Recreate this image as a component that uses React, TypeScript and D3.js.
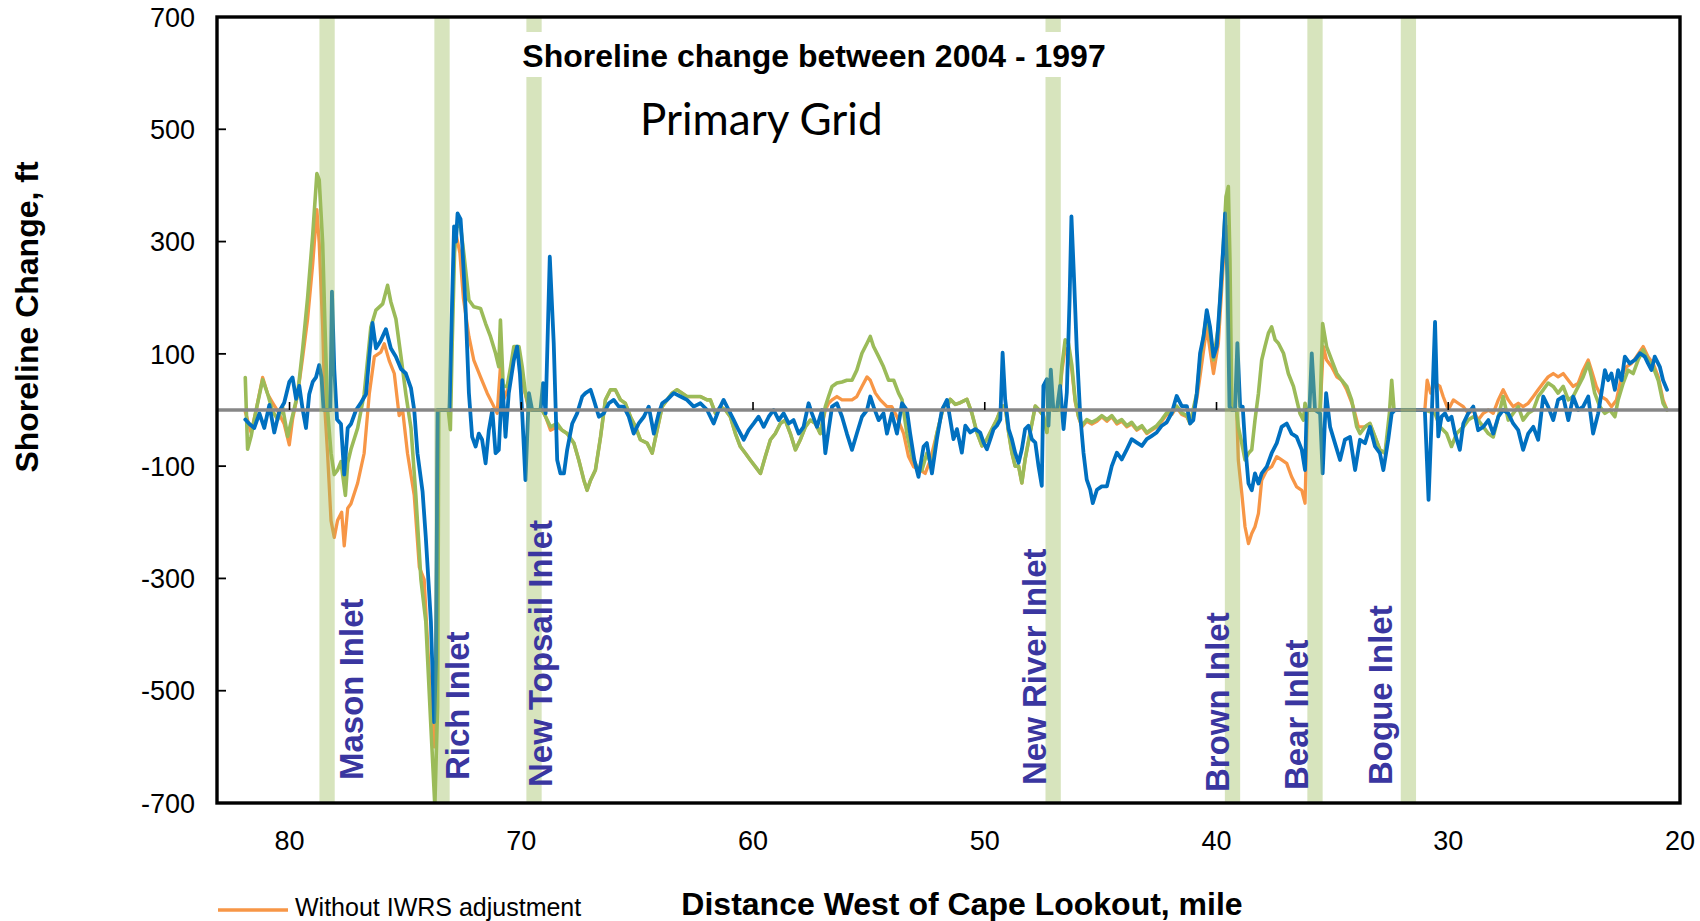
import React from 'react';
import * as d3 from 'd3';

type Pt = [number, number];

// ---------- data (mile west of Cape Lookout, shoreline change ft) ----------
const xTickValues = [80, 70, 60, 50, 40, 30, 20];
const yTickValues = [700, 500, 300, 100, -100, -300, -500, -700];

const inletNames = ['Mason Inlet', 'Rich Inlet', 'New Topsail Inlet', 'New River Inlet', 'Brown Inlet', 'Bear Inlet', 'Bogue Inlet'];
const inletMiles = [78.38, 73.42, 69.45, 47.05, 39.31, 35.75, 31.72];

const orangeSeries: Pt[] = [
  [81.91,-3],[81.66,-40],[81.45,-2],[81.16,58],[80.94,28],[80.73,13],[80.51,-2],[80.23,-25],[80.01,-62],[79.87,-17],[79.65,28],[79.43,95],[79.22,162],[79.00,260],[78.82,357],[78.72,297],[78.57,148],[78.47,-2],[78.36,-77],[78.21,-197],[78.07,-227],[77.93,-197],[77.75,-182],[77.64,-242],[77.49,-175],[77.35,-167],[77.06,-130],[76.78,-77],[76.56,28],[76.34,95],[76.06,103],[75.91,118],[75.70,88],[75.48,65],[75.27,-10],[75.12,0],[74.91,-77],[74.62,-152],[74.40,-280],[74.19,-302],[73.90,-527],[73.76,-600],[73.68,-450],[73.61,0],[73.10,0],[72.98,180],[72.90,300],[72.80,310],[72.65,280],[72.50,200],[72.26,131],[72.05,89],[71.76,59],[71.47,30],[71.18,6],[71.04,-6],[70.90,77],[70.75,20],[70.54,42],[70.32,100],[70.10,100],[69.89,40],[69.67,0],[69.53,0],[69.10,0],[68.95,-12],[68.74,-36],[68.45,-30],
  [68.24,-36],[68.02,-42],[67.73,-59],[67.52,-89],[67.30,-125],[67.16,-143],[67.01,-125],[66.80,-107],[66.58,-48],[66.37,18],[66.15,36],[65.94,36],[65.72,18],[65.51,12],[65.29,-12],[65.07,-30],[64.86,-53],[64.57,-59],[64.35,-77],[64.14,-36],[63.92,6],[63.71,18],[63.49,30],[63.28,36],[63.06,30],[62.85,24],[62.56,24],[62.27,24],[61.98,18],[61.84,18],[61.62,-6],[61.41,6],[61.19,0],[60.98,-12],[60.76,-42],[60.55,-65],[60.33,-77],[60.12,-89],[59.90,-101],[59.68,-113],[59.47,-83],[59.25,-53],[59.04,-42],[58.82,-24],[58.61,-18],[58.39,-42],[58.17,-71],[57.96,-53],[57.74,-30],[57.53,-18],[57.31,-24],[57.10,-42],
  [56.88,0],[56.74,12],[56.59,18],[56.38,24],[56.16,18],[55.95,18],[55.73,18],[55.52,24],[55.30,42],[55.08,59],[54.94,53],[54.72,30],[54.51,18],[54.22,6],[54.01,6],[53.79,-12],[53.50,-42],[53.29,-83],[53.07,-101],[52.78,-107],[52.57,-113],[52.35,-89],[52.07,-42],[51.78,6],[51.56,12],[51.49,19],[51.27,10],[51.06,13],[50.77,19],[50.56,-5],[50.34,-40],[50.12,-64],[49.91,-52],[49.69,-34],[49.48,-17],[49.26,7],[49.12,7],[48.97,-40],[48.83,-76],[48.69,-100],[48.54,-100],[48.40,-130],[48.26,-88],[48.04,-40],[47.82,7],[47.68,1],[47.47,-10],[47.32,-40],[47.18,19],[47.04,0],[46.82,0],
  [46.67,70],[46.53,110],[46.39,105],[46.24,70],[46.10,15],[45.96,-12],[45.81,-30],[45.60,-20],[45.38,-25],[45.16,-20],[44.95,-12],[44.73,-20],[44.52,-12],[44.30,-25],[44.09,-20],[43.87,-30],[43.66,-25],[43.44,-36],[43.22,-30],[43.01,-42],[42.79,-36],[42.58,-30],[42.36,-20],[42.15,-8],[41.93,-8],[41.72,5],[41.50,-8],[41.28,-12],[41.14,-24],[40.85,20],[40.71,60],[40.42,148],[40.28,107],[40.13,65],[39.92,119],[39.70,267],[39.56,327],[39.44,208],[39.34,0],[39.13,0],[39.06,-89],[38.91,-148],[38.77,-208],[38.62,-238],[38.48,-220],[38.34,-208],[38.19,-184],[38.05,-125],[37.83,-107],[37.62,-101],[37.40,-83],[37.19,-89],[36.97,-95],[36.76,-119],[36.54,-137],[36.32,-143],[36.18,-166],[36.08,0],[35.53,0],
  [35.39,113],[35.25,89],[35.03,77],[34.81,59],[34.60,53],[34.38,36],[34.10,6],[33.88,-30],[33.59,-30],[33.38,-24],[33.16,-48],[32.95,-71],[32.73,-77],[32.59,-40],[32.44,0],[31.01,0],[30.91,53],[30.76,30],[30.57,48],[30.36,42],[30.22,24],[30.00,0],[29.78,18],[29.57,12],[29.35,6],[29.14,-6],[28.92,0],[28.71,-18],[28.49,-6],[28.27,0],[28.06,-6],[27.84,18],[27.63,36],[27.41,18],[27.20,6],[26.98,12],[26.77,6],[26.55,12],[26.33,24],[26.12,36],[25.90,48],[25.69,59],[25.47,65],[25.26,59],[25.04,65],[24.82,53],[24.61,42],[24.39,48],[24.18,71],[23.96,89],[23.82,71],[23.61,42],[23.39,24],[23.17,18],[22.96,6],[22.74,18],[22.53,59],[22.31,77],[22.09,83],[21.88,95],[21.59,113],[21.38,95],[21.16,83],[20.94,59],[20.73,18],[20.56,0]
];

const greenSeries: Pt[] = [
  [81.91,58],[81.81,-70],[81.66,-47],[81.45,-2],[81.16,54],[80.94,28],[80.73,-2],[80.51,-17],[80.30,5],[80.08,-47],[79.87,-10],[79.65,28],[79.43,110],[79.22,200],[79.00,312],[78.82,421],[78.72,410],[78.57,297],[78.47,148],[78.36,0],[78.21,-77],[78.07,-115],[77.93,-107],[77.78,-92],[77.59,-152],[77.49,-94],[77.35,-70],[77.06,-32],[76.78,28],[76.49,148],[76.27,178],[75.98,189],[75.77,222],[75.63,193],[75.41,162],[75.19,95],[74.98,28],[74.76,-32],[74.55,-152],[74.33,-302],[74.12,-377],[73.90,-564],[73.73,-705],[73.61,-527],[73.56,0],[73.15,0],[73.06,-35],[72.98,120],[72.88,280],[72.78,330],[72.62,327],[72.48,279],[72.26,196],[72.05,184],[71.76,181],[71.54,154],[71.33,131],[71.11,101],[70.97,77],[70.90,160],[70.78,42],[70.61,42],[70.46,77],[70.32,113],[70.10,113],[69.96,77],[69.82,30],[69.67,6],[69.53,0],[69.10,0],[68.95,-12],[68.74,-30],[68.45,-24],
  [68.24,-36],[68.02,-42],[67.73,-59],[67.52,-89],[67.30,-125],[67.16,-143],[67.01,-125],[66.80,-107],[66.58,-48],[66.37,18],[66.15,36],[65.94,36],[65.72,18],[65.51,12],[65.29,-12],[65.07,-30],[64.86,-53],[64.57,-59],[64.35,-77],[64.14,-36],[63.92,6],[63.71,18],[63.49,30],[63.28,36],[63.06,30],[62.85,24],[62.56,24],[62.27,24],[61.98,18],[61.84,18],[61.62,-6],[61.41,6],[61.19,0],[60.98,-12],[60.76,-42],[60.55,-65],[60.33,-77],[60.12,-89],[59.90,-101],[59.68,-113],[59.47,-83],[59.25,-53],[59.04,-42],[58.82,-24],[58.61,-18],[58.39,-42],[58.17,-71],[57.96,-53],[57.74,-30],[57.53,-18],[57.31,-24],[57.10,-42],
  [56.88,6],[56.74,24],[56.59,42],[56.38,48],[56.16,50],[55.95,53],[55.73,53],[55.52,71],[55.30,101],[55.08,119],[54.94,131],[54.80,113],[54.58,95],[54.37,77],[54.15,53],[53.93,53],[53.72,30],[53.57,18],[53.36,-42],[53.14,-83],[52.93,-101],[52.71,-107],[52.50,-77],[52.28,-101],[52.07,-42],[51.78,6],[51.56,12],[51.49,19],[51.27,10],[51.06,13],[50.77,19],[50.56,-5],[50.34,-40],[50.12,-64],[49.91,-52],[49.69,-34],[49.48,-17],[49.26,7],[49.12,7],[48.97,-40],[48.83,-76],[48.69,-100],[48.54,-100],[48.40,-130],[48.26,-88],[48.04,-40],[47.82,7],[47.68,1],[47.47,-10],[47.32,-40],[47.18,19],[47.04,0],[46.82,0],
  [46.67,79],[46.53,125],[46.39,119],[46.24,79],[46.10,19],[45.96,-10],[45.81,-28],[45.60,-17],[45.38,-22],[45.16,-17],[44.95,-10],[44.73,-17],[44.52,-10],[44.30,-22],[44.09,-17],[43.87,-28],[43.66,-22],[43.44,-34],[43.22,-28],[43.01,-40],[42.79,-34],[42.58,-28],[42.36,-17],[42.15,-5],[41.93,-5],[41.72,7],[41.50,-5],[41.28,-10],[41.14,-24],[40.85,30],[40.71,89],[40.42,172],[40.28,137],[40.13,89],[39.92,148],[39.70,297],[39.59,380],[39.49,398],[39.42,267],[39.34,0],[39.13,0],[39.06,-30],[38.91,-59],[38.77,-89],[38.62,-77],[38.48,-71],[38.34,-18],[38.19,30],[38.05,89],[37.91,113],[37.76,137],[37.62,148],[37.47,125],[37.33,119],[37.11,101],[36.90,65],[36.68,42],[36.54,18],[36.40,-6],[36.25,-18],[36.18,12],[36.11,0],[35.53,0],
  [35.42,154],[35.25,113],[35.03,89],[34.81,65],[34.60,53],[34.38,42],[34.17,18],[33.95,-30],[33.81,-42],[33.59,-30],[33.38,-24],[33.16,-48],[32.95,-71],[32.73,-77],[32.54,-6],[32.44,53],[32.34,0],[31.01,0],[30.57,-6],[30.36,-30],[30.07,-42],[29.86,-65],[29.64,-42],[29.35,-30],[29.14,-18],[28.92,-12],[28.71,-18],[28.49,-30],[28.27,-42],[28.06,-48],[27.84,-12],[27.63,24],[27.41,-18],[27.20,-6],[26.98,6],[26.77,-18],[26.55,-6],[26.33,0],[26.12,24],[25.90,36],[25.69,48],[25.47,42],[25.26,30],[25.04,42],[24.82,18],[24.61,24],[24.39,42],[24.18,59],[23.96,83],[23.82,59],[23.68,30],[23.46,6],[23.24,-6],[23.03,0],[22.81,-12],[22.67,18],[22.45,48],[22.24,71],[22.02,65],[21.81,89],[21.59,107],[21.38,89],[21.16,77],[20.94,53],[20.73,12],[20.56,0]
];

const blueSeries: Pt[] = [
  [81.91,-17],[81.73,-25],[81.52,-32],[81.30,-6],[81.09,-32],[80.87,9],[80.66,-40],[80.44,-2],[80.23,13],[80.01,50],[79.87,58],[79.72,20],[79.58,43],[79.43,0],[79.29,-32],[79.15,28],[79.00,50],[78.86,58],[78.72,80],[78.62,58],[78.53,0],[78.24,0],[78.17,211],[78.07,73],[77.95,-17],[77.78,-25],[77.64,-115],[77.49,-32],[77.35,-25],[77.13,0],[76.92,13],[76.70,28],[76.56,95],[76.42,155],[76.27,110],[76.06,124],[75.84,144],[75.63,110],[75.41,95],[75.19,73],[74.98,65],[74.76,39],[74.62,0],[74.48,-77],[74.26,-145],[74.12,-227],[73.90,-377],[73.76,-556],[73.68,-450],[73.61,0],[73.10,0],[72.98,200],[72.90,327],[72.82,300],[72.75,350],[72.62,340],[72.55,297],[72.40,178],[72.26,30],[72.12,-48],[71.97,-65],[71.83,-42],[71.69,-53],[71.54,-95],[71.40,-36],[71.25,0],[71.11,-77],[70.97,-71],[70.82,53],[70.68,-48],[70.54,30],[70.32,89],[70.18,113],[70.06,65],[69.96,-6],[69.82,-125],[69.67,30],[69.53,0],[69.17,0],[69.06,48],[68.95,-6],[68.77,273],[68.60,119],[68.45,-89],[68.31,-113],[68.16,-113],[68.02,-71],
  [67.80,-24],[67.59,-6],[67.37,24],[67.23,30],[67.01,36],[66.87,18],[66.65,-12],[66.44,-6],[66.22,12],[66.01,18],[65.79,6],[65.58,6],[65.36,-12],[65.15,-42],[64.93,-24],[64.71,-12],[64.50,6],[64.28,-42],[64.07,-6],[63.92,12],[63.71,18],[63.42,30],[63.13,24],[62.85,18],[62.56,6],[62.27,12],[61.98,0],[61.70,-24],[61.48,0],[61.27,18],[61.05,0],[60.83,-18],[60.62,-36],[60.40,-53],[60.19,-36],[59.97,-24],[59.76,-12],[59.54,-30],[59.32,-12],[59.11,0],[58.89,-18],[58.68,-6],[58.46,-24],[58.25,-18],[58.03,-42],[57.82,-30],[57.60,12],[57.46,-6],[57.24,-30],[57.02,0],[56.88,-77],[56.74,-36],[56.59,6],[56.38,12],[56.16,-12],[55.95,-42],[55.73,-71],[55.52,-42],[55.30,-12],[55.08,0],[54.94,24],[54.80,6],[54.58,-18],[54.37,-6],[54.22,-42],[54.01,-6],[53.79,-42],[53.57,12],[53.36,0],[53.22,-42],[53.04,-89],[52.86,-119],[52.64,-65],[52.50,-59],[52.28,-113],[52.07,-53],[51.85,0],[51.63,18],
  [51.49,-17],[51.35,-52],[51.20,-34],[50.99,-76],[50.84,-28],[50.63,-40],[50.41,-34],[50.20,-40],[50.05,-58],[49.91,-70],[49.76,-52],[49.62,-34],[49.48,-28],[49.33,-17],[49.23,102],[49.12,19],[48.97,-34],[48.83,-52],[48.69,-76],[48.54,-94],[48.40,-70],[48.26,-34],[48.11,-28],[47.97,-52],[47.82,-58],[47.68,-100],[47.54,-135],[47.47,43],[47.32,55],[47.25,-28],[47.15,72],[47.04,0],[46.89,0],[46.75,43],[46.60,-34],[46.46,31],[46.34,197],[46.26,345],[46.14,226],[46.03,108],[45.88,-10],[45.74,-76],[45.60,-124],[45.45,-142],[45.34,-166],[45.16,-142],[44.95,-136],[44.73,-136],[44.52,-100],[44.30,-76],[44.09,-88],[43.87,-70],[43.66,-52],[43.44,-58],[43.22,-64],[43.01,-52],[42.79,-46],[42.58,-40],[42.36,-28],[42.15,-22],[41.93,-5],[41.72,25],[41.50,7],[41.28,7],
  [41.14,-24],[41.00,-18],[40.85,30],[40.71,101],[40.56,131],[40.42,178],[40.28,148],[40.13,95],[39.99,113],[39.85,196],[39.70,297],[39.63,350],[39.53,237],[39.44,6],[39.34,0],[39.20,0],[39.10,119],[38.98,6],[38.87,6],[38.77,-59],[38.62,-131],[38.48,-143],[38.34,-113],[38.19,-131],[38.05,-113],[37.83,-101],[37.62,-77],[37.40,-59],[37.19,-30],[36.97,-24],[36.76,-42],[36.54,-48],[36.32,-71],[36.18,-107],[36.11,0],[35.99,0],[35.89,101],[35.75,0],[35.53,-6],[35.42,-113],[35.27,30],[35.10,-30],[34.89,-59],[34.67,-89],[34.46,-53],[34.24,-48],[34.02,-107],[33.81,-53],[33.59,-59],[33.38,-30],[33.16,-65],[32.95,-77],[32.80,-107],[32.59,-53],[32.44,-6],[32.30,0],[31.01,0],[30.85,-160],[30.72,-20],[30.57,157],[30.50,48],[30.43,-47],
  [30.29,-12],[30.14,-6],[30.00,-18],[29.86,-12],[29.71,-42],[29.50,-71],[29.35,-24],[29.14,-6],[28.92,6],[28.71,-36],[28.49,-30],[28.27,-18],[28.06,-42],[27.84,-12],[27.63,0],[27.41,-6],[27.20,-24],[26.98,-36],[26.77,-71],[26.55,-42],[26.33,-30],[26.12,-53],[25.90,24],[25.69,6],[25.47,-18],[25.26,18],[25.04,24],[24.82,-18],[24.61,24],[24.39,0],[24.18,6],[23.96,24],[23.75,-42],[23.53,-6],[23.39,30],[23.24,71],[23.10,53],[22.96,65],[22.81,36],[22.67,71],[22.52,53],[22.38,95],[22.17,83],[21.95,89],[21.73,101],[21.52,95],[21.38,83],[21.23,71],[21.09,95],[20.87,77],[20.73,53],[20.56,36]
];

// ---------- layout ----------
const W = 1700;
const H = 921;
const PL = 217, PR = 1680, PT = 17, PB = 803;
const labelCenterX = [351.5, 457.5, 540, 1034, 1217, 1296, 1380];
const labelBottomY = [780, 780, 787, 785, 792, 790, 785];

const ARIAL = '"Liberation Sans", Arial, Helvetica, sans-serif';

export default function App() {
  const x = d3.scaleLinear().domain([83.13, 20]).range([PL, PR]);
  const y = d3.scaleLinear().domain([-700, 700]).range([PB, PT]);
  const line = d3.line<Pt>().x(d => x(d[0])).y(d => y(d[1])).curve(d3.curveLinear);
  const bandHalf = 0.33;

  return (
    <svg width={W} height={H} style={{ position: 'absolute', left: 0, top: 0, background: '#fff' }}>
      <defs>
        <clipPath id="plotClip">
          <rect x={PL} y={PT} width={PR - PL} height={PB - PT} />
        </clipPath>
      </defs>
      <rect x={0} y={0} width={W} height={H} fill="#fff" />

      <g clipPath="url(#plotClip)" fill="none" strokeLinejoin="round" strokeLinecap="round">
        <path d={line(orangeSeries) || ''} stroke="#F79646" strokeWidth={3.3} />
        <path d={line(greenSeries) || ''} stroke="#9BBB59" strokeWidth={3.6} />
        <path d={line(blueSeries) || ''} stroke="#0070C0" strokeWidth={3.8} />
      </g>

      {/* zero axis line with ticks */}
      <line x1={PL} x2={PR} y1={y(0)} y2={y(0)} stroke="#878787" strokeWidth={3.4} />
      {xTickValues.filter(v => v !== 20).map(v => (
        <line key={'xt' + v} x1={x(v)} x2={x(v)} y1={y(0) - 8} y2={y(0)} stroke="#000" strokeWidth={1.6} />
      ))}

      {/* inlet bands (translucent, over lines) */}
      {inletMiles.map((m, i) => (
        <rect key={'band' + i} x={x(m + bandHalf)} y={PT} width={x(m - bandHalf) - x(m + bandHalf)} height={PB - PT}
          fill="#9BBB59" fillOpacity={0.4} />
      ))}

      {/* frame */}
      <rect x={PL} y={PT} width={PR - PL} height={PB - PT} fill="none" stroke="#000" strokeWidth={3.4} />
      {yTickValues.map(v => (
        <line key={'yt' + v} x1={PL} x2={PL + 9} y1={y(v)} y2={y(v)} stroke="#000" strokeWidth={1.8} />
      ))}

      {/* y tick labels */}
      {yTickValues.map(v => (
        <text key={'yl' + v} x={195} y={y(v)} dy="0.36em" textAnchor="end" fontFamily={ARIAL} fontSize={27} fill="#000">{v}</text>
      ))}
      {/* x tick labels */}
      {xTickValues.map(v => (
        <text key={'xl' + v} x={x(v)} y={850} textAnchor="middle" fontFamily={ARIAL} fontSize={27} fill="#000">{v}</text>
      ))}

      {/* inlet labels */}
      {inletNames.map((n, i) => (
        <text key={'il' + i} transform={`translate(${labelCenterX[i]},${labelBottomY[i]}) rotate(-90)`} dy="0.36em"
          textAnchor="start" fontFamily={ARIAL} fontWeight="bold" fontSize={33} fill="#3A36A0">{n}</text>
      ))}

      {/* title with white background */}
      <rect x={512} y={32} width={606} height={45} fill="#fff" />
      <text x={814} y={67} textAnchor="middle" fontFamily={ARIAL} fontWeight="bold" fontSize={32} fill="#000">Shoreline change between 2004 - 1997</text>
      <text x={640} y={135} fontFamily="Lato, 'Open Sans', sans-serif" fontSize={44} fill="#000">Primary Grid</text>

      {/* axis titles */}
      <text transform="translate(38,317) rotate(-90)" textAnchor="middle" fontFamily={ARIAL} fontWeight="bold" fontSize={32} fill="#000">Shoreline Change, ft</text>
      <text x={962} y={915} textAnchor="middle" fontFamily={ARIAL} fontWeight="bold" fontSize={32} fill="#000">Distance West of Cape Lookout, mile</text>

      {/* legend */}
      <line x1={218} x2={288} y1={910} y2={910} stroke="#F79646" strokeWidth={3.5} />
      <text x={295} y={916} fontFamily={ARIAL} fontSize={25} fill="#000">Without IWRS adjustment</text>
    </svg>
  );
}
